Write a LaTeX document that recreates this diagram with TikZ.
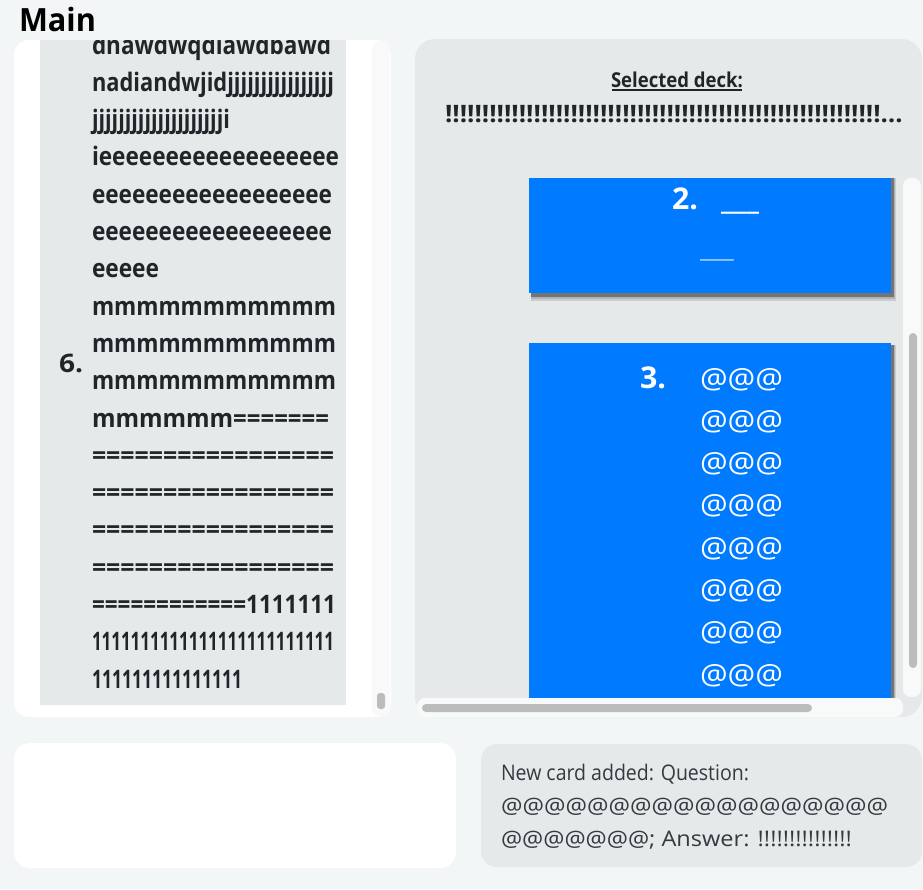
\documentclass[tikz,border=0pt]{standalone}
\usepackage{fontspec}
\usepackage{graphicx}
\setmainfont{Open Sans}
\definecolor{bgc}{RGB}{243,246,247}
\definecolor{panelgray}{RGB}{230,233,234}
\definecolor{cardblue}{RGB}{0,123,255}
\definecolor{txt}{RGB}{33,37,41}
\definecolor{txttwo}{RGB}{52,58,64}
\definecolor{thumbc}{RGB}{188,188,188}
\definecolor{trackc}{RGB}{248,249,249}
\definecolor{lefttrack}{RGB}{249,249,249}
\newcommand{\fitw}[2]{\resizebox*{#1}{\totalheight}{#2}}
\newcommand{\fsz}[1]{\fontsize{#1}{#1}\selectfont}
\begin{document}
\begin{tikzpicture}[x=1pt,y=-1pt,
  tl/.style={inner sep=0pt, outer sep=0pt, anchor=base west},
  lefttxt/.style={tl, text=txt, font=\fsz{25.5}\bfseries},
  cardnum/.style={tl, text=white, font=\fsz{30}\bfseries},
  cardat/.style={tl, text=white, font=\fsz{28}},
  msgtxt/.style={tl, text=txttwo, font=\fsz{21.5}},
  shadowA/.style={fill=black, opacity=0.12},
  shadowB/.style={fill=black, opacity=0.35}]
\useasboundingbox (0,0) rectangle (923,889);
\fill[bgc] (0,0) rectangle (923,889);

% title
\node[tl, text=black, font=\fsz{32}\bfseries] (title) at (19,31) {\fitw{77pt}{Main}};

% left panel
\fill[white, rounded corners=15pt] (14,40) rectangle (391,717);
\fill[lefttrack, rounded corners=8pt] (372,41) rectangle (390,716);
\fill[thumbc, rounded corners=3pt] (377,693) rectangle (385,709);
\fill[panelgray] (40,40) rectangle (346,705);
\begin{scope}
\clip (40,40) rectangle (346,705);
\node[lefttxt] (n6) at (59,372) {\fitw{24pt}{6.}};
\node[lefttxt] (l0) at (92,54.0) {\fitw{239pt}{dnawdwqdiawdbawd}};
\node[lefttxt] (l1) at (92,91.3) {\fitw{242pt}{nadiandwjidjjjjjjjjjjjjjjjj}};
\node[lefttxt] (l2) at (92,128.6) {\fitw{138pt}{jjjjjjjjjjjjjjjjjjjji}};
\node[lefttxt] (l3) at (92,165.9) {\fitw{247pt}{ieeeeeeeeeeeeeeeeee}};
\node[lefttxt] (l4) at (92,203.2) {\fitw{240pt}{eeeeeeeeeeeeeeeeee}};
\node[lefttxt] (l5) at (92,240.5) {\fitw{240pt}{eeeeeeeeeeeeeeeeee}};
\node[lefttxt] (l6) at (92,277.8) {\fitw{67pt}{eeeee}};
\node[lefttxt] (l7) at (92,315.1) {\fitw{244pt}{mmmmmmmmmmm}};
\node[lefttxt] (l8) at (92,352.4) {\fitw{244pt}{mmmmmmmmmmm}};
\node[lefttxt] (l9) at (92,389.7) {\fitw{244pt}{mmmmmmmmmmm}};
\node[lefttxt] (l10) at (92,427.0) {\fitw{237pt}{mmmmmm=======}};
\node[lefttxt] (l11) at (92,464.3) {\fitw{242pt}{=================}};
\node[lefttxt] (l12) at (92,501.6) {\fitw{242pt}{=================}};
\node[lefttxt] (l13) at (92,538.9) {\fitw{242pt}{=================}};
\node[lefttxt] (l14) at (92,576.2) {\fitw{242pt}{=================}};
\node[lefttxt] (l15) at (92,613.5) {\fitw{244pt}{============1111111}};
\node[lefttxt] (l16) at (92,650.8) {\fitw{242pt}{1111111111111111111111111}};
\node[lefttxt] (l17) at (92,688.1) {\fitw{150pt}{111111111111111}};
\end{scope}

% right panel
\fill[panelgray, rounded corners=20pt] (415,39) rectangle (922,717);
\node[tl, text=txt, font=\fsz{20.5}\bfseries] (seldeck) at (611,87) {\fitw{132pt}{Selected deck:}};
\draw[txt, line width=1.2pt] (seldeck.base west) ++(1,3) -- ++(130,0);
\node[tl, text=txt, font=\fsz{24}\bfseries] (deckname) at (445,122) {\fitw{458pt}{!!!!!!!!!!!!!!!!!!!!!!!!!!!!!!!!!!!!!!!!!!!!!!!!!!!!!!!!!!!…}};

\begin{scope}
\clip (417,178) rectangle (903,698);
% card 2
\fill[shadowA] (531,140) rectangle (896,301);
\fill[shadowA] (531,140) rectangle (895,299);
\fill[shadowB] (531,140) rectangle (894,297);
\fill[cardblue] (529,140) rectangle (891,293);
\node[cardnum] (c2num) at (672,209) {\fitw{26pt}{2.}};
\node[cardnum] (c2q) at (721,209) {\fitw{38pt}{\_\_\_}};
\node[tl, text=white, font=\fsz{16}] (c2a) at (700,258) {\fitw{34pt}{\_\_\_}};
% card 3
\fill[shadowA] (531,345) rectangle (896,760);
\fill[shadowA] (531,345) rectangle (895,760);
\fill[shadowB] (531,345) rectangle (894,760);
\fill[cardblue] (529,343) rectangle (891,760);
\node[cardnum] (c3num) at (640,388) {\fitw{26pt}{3.}};
\node[cardat] (a1) at (700,388) {\fitw{83pt}{@@@}};
\node[cardat] (a2) at (700,430.3) {\fitw{83pt}{@@@}};
\node[cardat] (a3) at (700,472.6) {\fitw{83pt}{@@@}};
\node[cardat] (a4) at (700,514.9) {\fitw{83pt}{@@@}};
\node[cardat] (a5) at (700,557.2) {\fitw{83pt}{@@@}};
\node[cardat] (a6) at (700,599.5) {\fitw{83pt}{@@@}};
\node[cardat] (a7) at (700,641.8) {\fitw{83pt}{@@@}};
\node[cardat] (a8) at (700,684.1) {\fitw{83pt}{@@@}};
\end{scope}

% scrollbars
\fill[trackc, rounded corners=8pt] (903,178) rectangle (921,697);
\fill[thumbc, rounded corners=4pt] (909,333) rectangle (917,668);
\fill[trackc, rounded corners=8pt] (417,698) rectangle (903,717);
\fill[thumbc, rounded corners=4pt] (422,704) rectangle (812,712);

% bottom boxes
\fill[white, rounded corners=16pt] (14,743) rectangle (456,868);
\fill[panelgray, rounded corners=16pt] (481,744) rectangle (922,867);
\node[msgtxt] (m1) at (501,780) {\fitw{248pt}{New card added: Question:}};
\node[msgtxt] (m2) at (501,813) {\fitw{387pt}{@@@@@@@@@@@@@@@@@@}};
\node[msgtxt] (m3) at (501,846) {\fitw{351pt}{@@@@@@@; Answer: !!!!!!!!!!!!!!!}};
\end{tikzpicture}
\end{document}
